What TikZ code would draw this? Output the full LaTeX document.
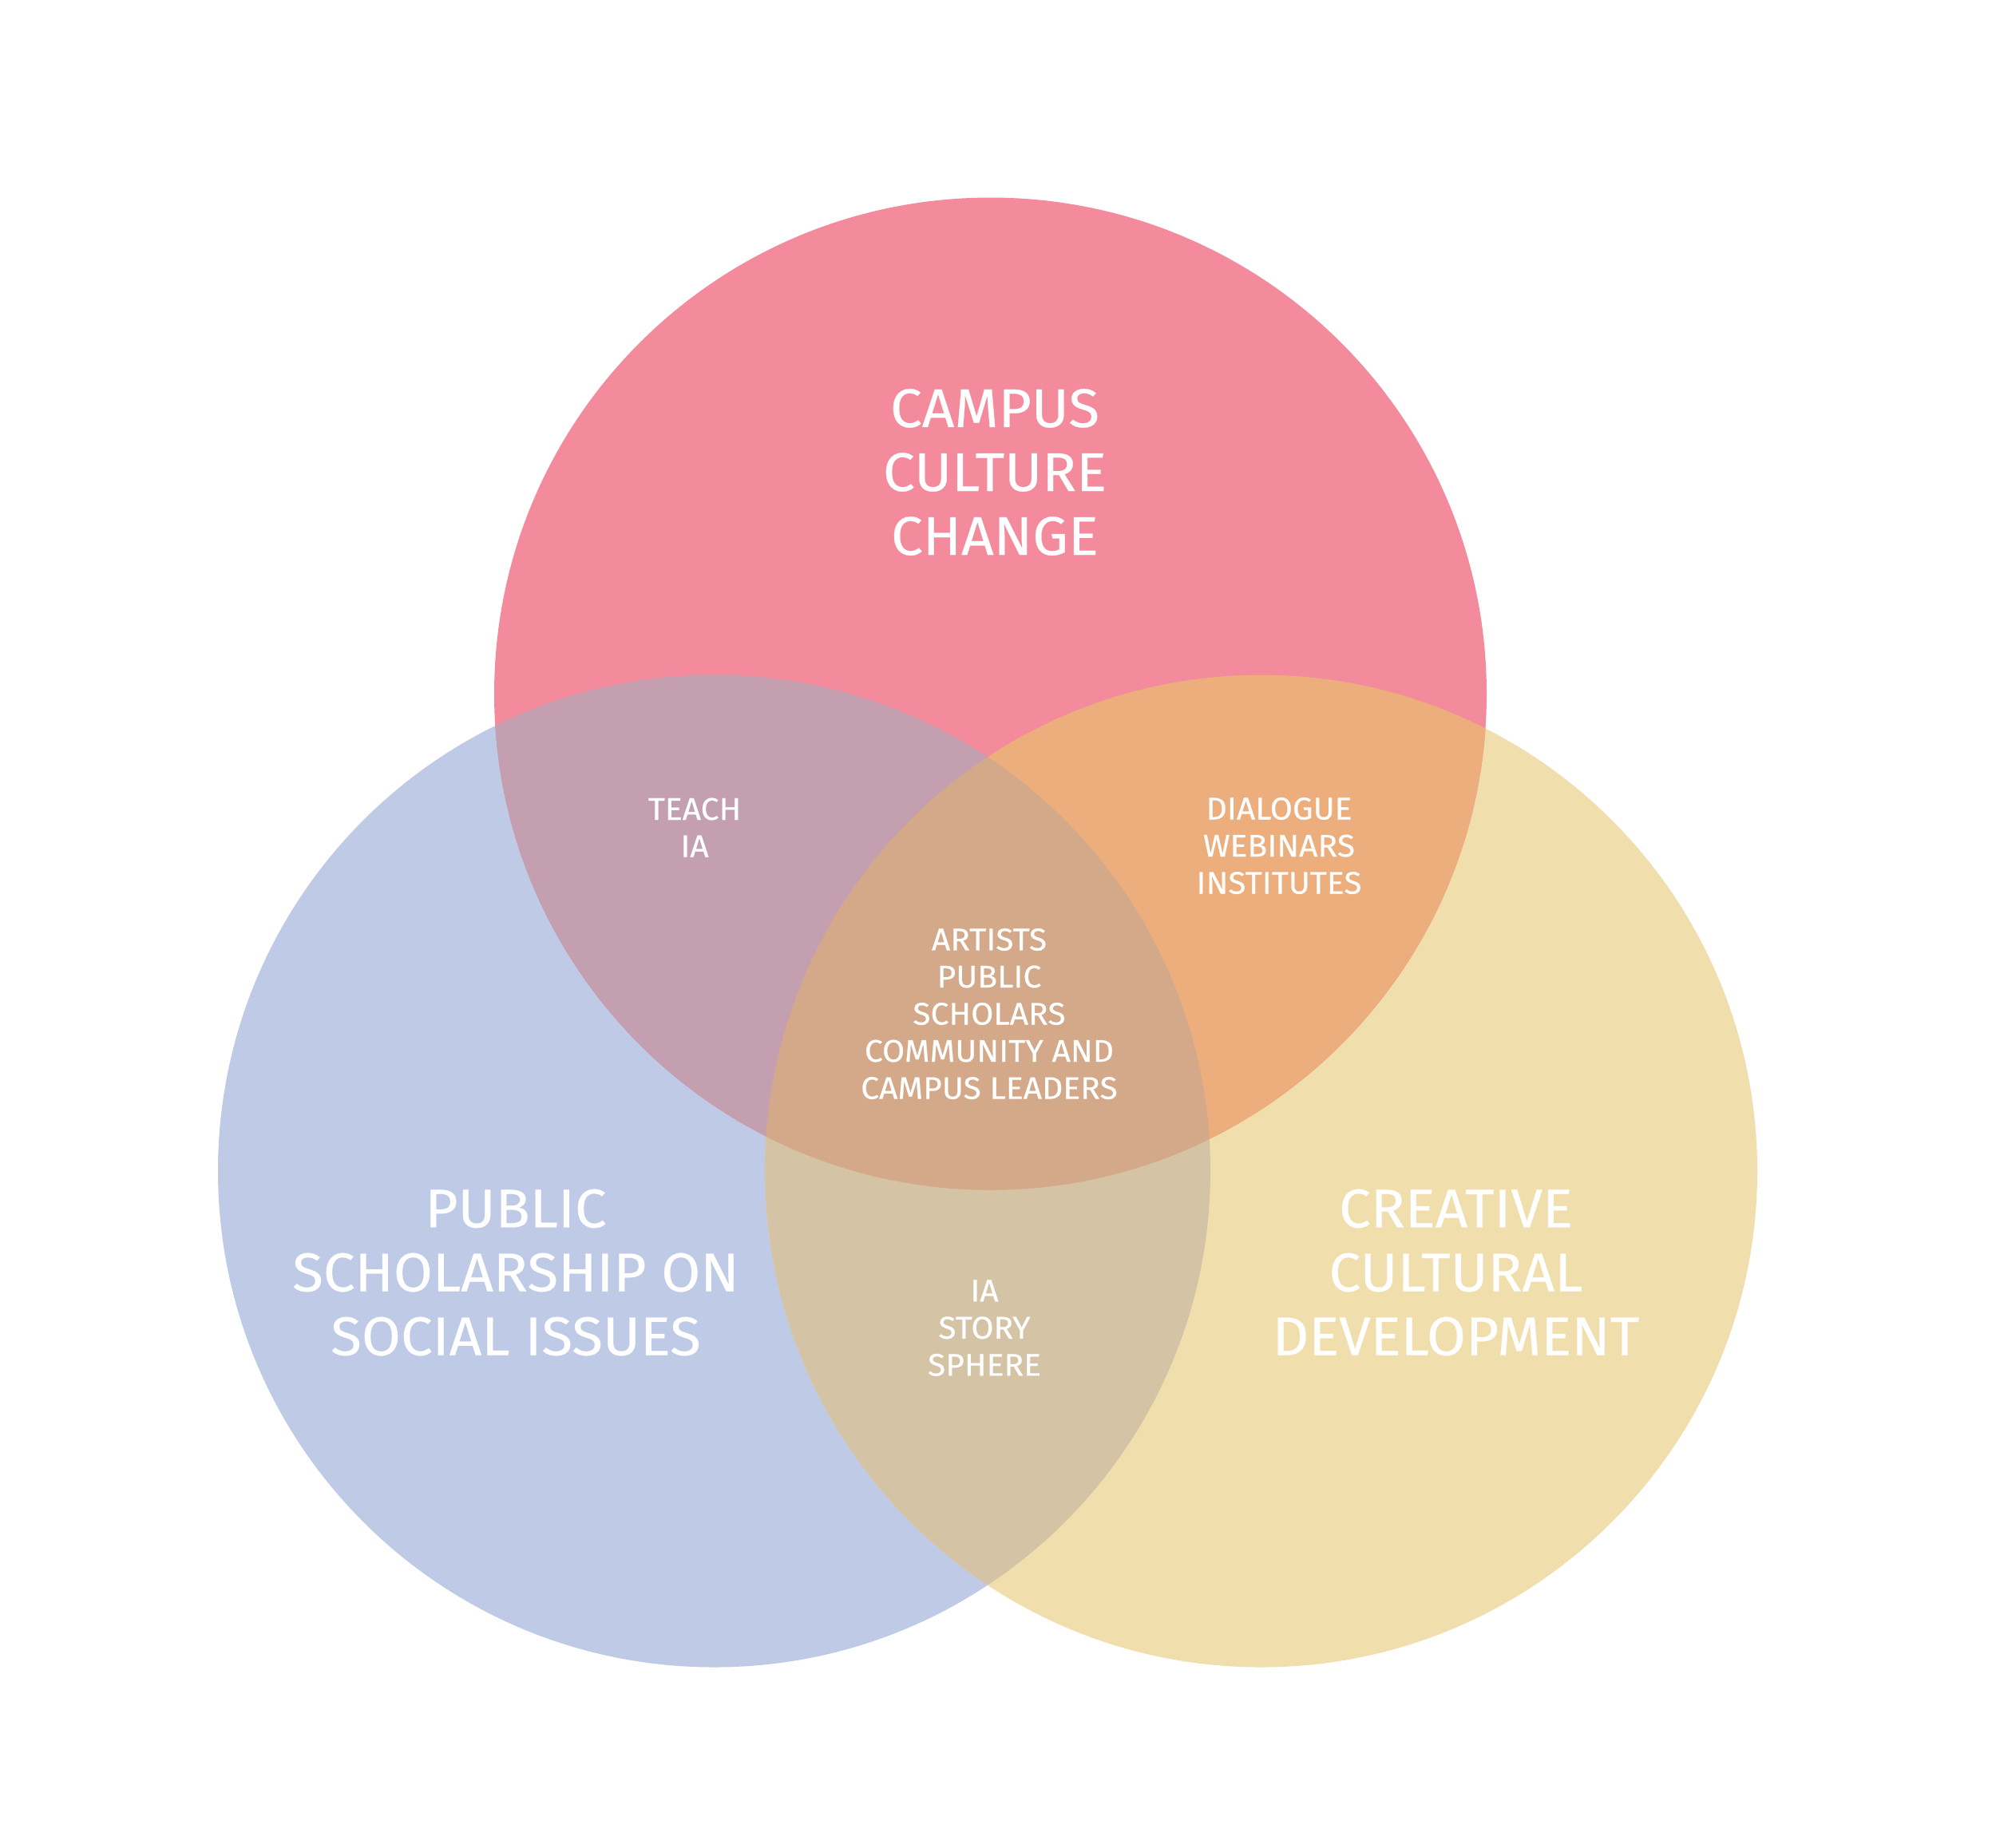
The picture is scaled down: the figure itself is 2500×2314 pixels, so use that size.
\documentclass[tikz,border=0pt]{standalone}
\usepackage{fontspec}
\setmainfont{Fira Sans}[FakeStretch=1.04, FakeBold=0.35]
\definecolor{cpink}{HTML}{F48B9D}
\definecolor{cblue}{HTML}{BFCAE6}
\definecolor{cyellow}{HTML}{F1DEAD}
\definecolor{cpb}{HTML}{C39FAF}
\definecolor{cpy}{HTML}{ECAE7C}
\definecolor{cby}{HTML}{D4C4A5}
\definecolor{cpby}{HTML}{D3A98A}
\tikzset{
  biglabel/.style={text=white, align=center, inner sep=0pt, anchor=center,
    font={\fontsize{19.4}{22.76}\selectfont}},
  smalllabel/.style={text=white, align=center, inner sep=0pt, anchor=center,
    font={\fontsize{11.15}{13.23}\selectfont}},
}
\begin{document}
\begin{tikzpicture}[x=0.01cm, y=-0.01cm]
\fill[white] (0,0) rectangle (2500,2314);
\useasboundingbox (0,0) rectangle (2500,2314);
\coordinate (ctop) at (1240.5,869);
\coordinate (cleft) at (894.5,1467);
\coordinate (cright) at (1579.5,1467);
\def\R{621.5}
% single circles
\fill[cblue] (cleft) circle[radius=\R];
\fill[cyellow] (cright) circle[radius=\R];
\fill[cpink] (ctop) circle[radius=\R];
% pairwise overlaps
\begin{scope}
  \clip (cleft) circle[radius=\R];
  \fill[cby] (cright) circle[radius=\R];
\end{scope}
\begin{scope}
  \clip (ctop) circle[radius=\R];
  \fill[cpb] (cleft) circle[radius=\R];
\end{scope}
\begin{scope}
  \clip (ctop) circle[radius=\R];
  \fill[cpy] (cright) circle[radius=\R];
\end{scope}
\begin{scope}
  \clip (ctop) circle[radius=\R];
  \clip (cleft) circle[radius=\R];
  \fill[cpby] (cright) circle[radius=\R];
\end{scope}
% labels
\node[biglabel] (campus) at (1246,591.5) {CAMPUS\\CULTURE\\CHANGE};
\node[biglabel] (public) at (646,1594) {PUBLIC\\SCHOLARSHIP ON\\SOCIAL ISSUES};
\node[biglabel] (creative) at (1823.5,1594) {CREATIVE\\CULTURAL\\DEVELOPMENT};
\node[smalllabel] (teach) at (870,1036.5) {TEACH\\IA};
\node[smalllabel] (dialogue) at (1602,1059.5) {DIALOGUE\\WEBINARS\\INSTITUTES};
\node[smalllabel] (artists) at (1239,1270) {ARTISTS\\PUBLIC\\SCHOLARS\\COMMUNITY AND\\CAMPUS LEADERS};
\node[smalllabel] (story) at (1233,1663.5) {IA\\STORY\\SPHERE};
\end{tikzpicture}
\end{document}
